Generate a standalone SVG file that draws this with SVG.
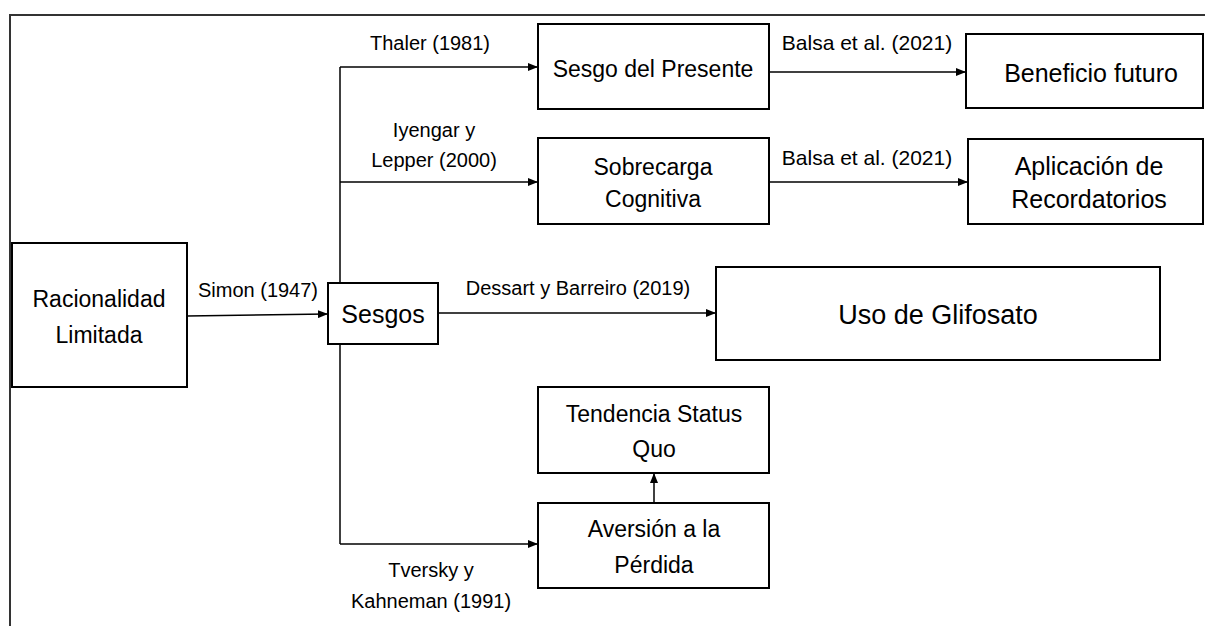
<svg xmlns="http://www.w3.org/2000/svg" width="1205" height="626" viewBox="0 0 1205 626">
<style>
.box{fill:#fff;stroke:#000;stroke-width:2}
.frame{fill:none;stroke:#333;stroke-width:2}
.con{fill:none;stroke:#000;stroke-width:1.5}
.t{font-family:"Liberation Sans",Arial,sans-serif;fill:#000;text-anchor:middle}
.n{font-size:23px}
.l{font-size:20px}
.c{font-size:21px}
.r{font-size:25px}
</style>
<defs>
<marker id="ah" markerWidth="10" markerHeight="8" refX="9" refY="4" orient="auto" markerUnits="userSpaceOnUse">
<path d="M0,0 L10,4 L0,8 Z" fill="#000"/>
</marker>
</defs>
<rect width="1205" height="626" fill="#fff"/>
<path class="frame" d="M10,626 L10,15 L1205,15"/>

<g id="connectors">
<path class="con" d="M340,67 L340,544"/>
<path class="con" d="M340,67 L537,67" marker-end="url(#ah)"/>
<path class="con" d="M340,182 L537,182" marker-end="url(#ah)"/>
<path class="con" d="M340,544 L537,544" marker-end="url(#ah)"/>
<path class="con" d="M187,316 L327,314" marker-end="url(#ah)"/>
<path class="con" d="M438,313 L715,313" marker-end="url(#ah)"/>
<path class="con" d="M769,72 L965,72" marker-end="url(#ah)"/>
<path class="con" d="M769,182 L967,182" marker-end="url(#ah)"/>
<path class="con" d="M654,503 L654,474" marker-end="url(#ah)"/>
<text class="t l" x="430" y="50">Thaler (1981)</text>
<text class="t l" x="434" y="137">Iyengar y</text>
<text class="t l" x="434" y="167">Lepper (2000)</text>
<text class="t l" x="258" y="297">Simon (1947)</text>
<text class="t l" x="578" y="295">Dessart y Barreiro (2019)</text>
<text class="t l" x="431" y="577">Tversky y</text>
<text class="t l" x="431" y="608">Kahneman (1991)</text>
<text class="t c" x="867" y="50">Balsa et al. (2021)</text>
<text class="t c" x="867" y="165">Balsa et al. (2021)</text>
</g>

<g id="racionalidad">
<rect class="box" x="12" y="243" width="175" height="144"/>
<text class="t n" x="99" y="307">Racionalidad</text>
<text class="t n" x="99" y="343">Limitada</text>
</g>
<g id="sesgos">
<rect class="box" x="328" y="283" width="110" height="61"/>
<text class="t" x="383" y="323" font-size="25">Sesgos</text>
</g>
<g id="sesgo-presente">
<rect class="box" x="538" y="24" width="231" height="85"/>
<text class="t n" x="653" y="77">Sesgo del Presente</text>
</g>
<g id="sobrecarga">
<rect class="box" x="538" y="138" width="231" height="86"/>
<text class="t n" x="653" y="175">Sobrecarga</text>
<text class="t n" x="653" y="207">Cognitiva</text>
</g>
<g id="beneficio">
<rect class="box" x="966" y="34" width="237" height="74"/>
<text class="t r" x="1091" y="82">Beneficio futuro</text>
</g>
<g id="recordatorios">
<rect class="box" x="968" y="139" width="235" height="85"/>
<text class="t r" x="1089" y="175">Aplicación de</text>
<text class="t r" x="1089" y="208">Recordatorios</text>
</g>
<g id="glifosato">
<rect class="box" x="716" y="267" width="444" height="93"/>
<text class="t" x="938" y="324" font-size="27">Uso de Glifosato</text>
</g>
<g id="status-quo">
<rect class="box" x="538" y="387" width="231" height="86"/>
<text class="t n" x="654" y="422">Tendencia Status</text>
<text class="t n" x="654" y="457">Quo</text>
</g>
<g id="aversion">
<rect class="box" x="538" y="503" width="231" height="85"/>
<text class="t n" x="654" y="537">Aversión a la</text>
<text class="t n" x="654" y="573">Pérdida</text>
</g>
</svg>
